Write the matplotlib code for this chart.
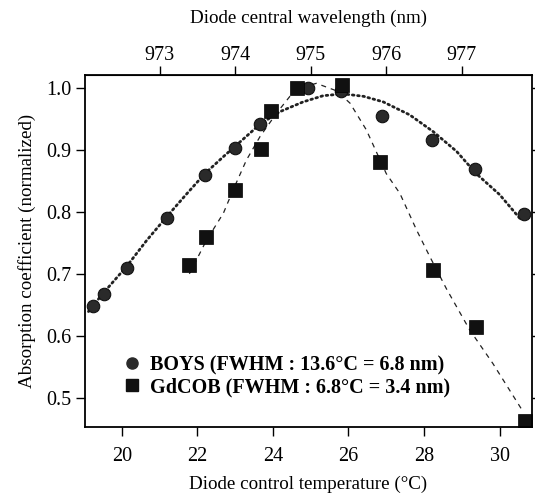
import matplotlib.pyplot as plt
from matplotlib.lines import Line2D

plt.rcParams['font.family'] = ['Liberation Serif', 'DejaVu Serif']

# data (temperature in degC, normalized absorption)
boys_t = [19.25, 19.52, 20.13, 21.21, 22.2, 23.0, 23.66, 24.93, 25.8, 26.89, 28.21, 29.36, 30.64]
boys_y = [0.648, 0.668, 0.71, 0.791, 0.86, 0.904, 0.942, 1.001, 0.995, 0.955, 0.917, 0.870, 0.797]

gdcob_t = [21.79, 22.22, 23.01, 23.68, 23.95, 24.65, 25.82, 26.83, 28.24, 29.37, 30.68]
gdcob_y = [0.715, 0.760, 0.836, 0.902, 0.964, 1.0, 1.005, 0.88, 0.706, 0.614, 0.462]

# fitted curves
boys_fit_t = [19.12, 19.5, 20.13, 20.66, 21.2, 21.7, 22.2, 22.7, 23.2, 23.66, 24.18, 24.8,
              25.33, 25.86, 26.4, 26.92, 27.62, 28.24, 28.86, 29.38, 30.0, 30.57]
boys_fit_y = [0.639, 0.668, 0.712, 0.754, 0.793, 0.828, 0.862, 0.890, 0.917, 0.942, 0.962, 0.978,
              0.988, 0.991, 0.987, 0.978, 0.957, 0.930, 0.898, 0.862, 0.828, 0.787]

gdcob_fit_t = [21.79, 22.24, 22.69, 22.95, 23.3, 23.66, 24.1, 24.45, 24.8, 25.15, 25.68, 26.04,
               26.47, 27.0, 27.36, 27.8, 28.15, 28.59, 29.21, 29.82, 30.57]
gdcob_fit_y = [0.70, 0.754, 0.798, 0.836, 0.884, 0.922, 0.960, 0.987, 1.002, 1.008, 0.996, 0.976,
               0.933, 0.862, 0.830, 0.771, 0.728, 0.676, 0.609, 0.555, 0.482]

labels = ['BOYS (FWHM : 13.6°C = 6.8 nm)', 'GdCOB (FWHM : 6.8°C = 3.4 nm)']

fig = plt.figure(figsize=(5.35, 4.95), dpi=100)
ax = fig.add_axes([0.159, 0.137, 0.835, 0.7115])

ax.plot(boys_fit_t, boys_fit_y, color='#222222', lw=2.0, ls=(0, (0.6, 1.3)), dash_capstyle='round')
ax.plot(gdcob_fit_t, gdcob_fit_y, color='#222222', lw=0.9, ls=(0, (4, 4)))
ax.plot(boys_t, boys_y, 'o', ms=9, color='#2a2a2a', mec='#111111', mew=0.8)
ax.plot(gdcob_t, gdcob_y, 's', ms=10, color='#111111', mec='#000000', mew=0.5)

ax.set_xlim(19.03, 30.85)
ax.set_ylim(0.452, 1.0215)
ax.set_xticks([20, 22, 24, 26, 28, 30])
ax.set_yticks([0.5, 0.6, 0.7, 0.8, 0.9, 1.0])
ax.set_yticklabels(['0.5', '0.6', '0.7', '0.8', '0.9', '1.0'])
ax.tick_params(direction='out', length=6.5, width=1, labelsize=14.5, right=True, labelright=False)
ax.tick_params(axis='x', pad=8)
for s in ax.spines.values():
    s.set_linewidth(1.3)

top = ax.secondary_xaxis('top', functions=(lambda t: t / 2 + 962.5, lambda w: (w - 962.5) * 2))
top.set_xticks([973, 974, 975, 976, 977])
top.tick_params(direction='out', length=6.5, width=1, labelsize=14.5, pad=1)
top.set_xlabel('Diode central wavelength (nm)', fontsize=13.7, labelpad=16)

ax.set_xlabel('Diode control temperature (°C)', fontsize=13.7, labelpad=7)
ax.set_ylabel('Absorption coefficient (normalized)', fontsize=13.7, labelpad=7)

handles = [Line2D([], [], ls='', marker='o', ms=8, color='#2a2a2a'),
           Line2D([], [], ls='', marker='s', ms=8, color='#111111')]
ax.legend(handles, labels, loc='lower left', bbox_to_anchor=(0.05, 0.045), frameon=False,
          prop={'weight': 'bold', 'size': 14.5}, handletextpad=0.4, labelspacing=0.1,
          handlelength=1.0, borderpad=0.2)

fig.savefig('out.png', dpi=100)
